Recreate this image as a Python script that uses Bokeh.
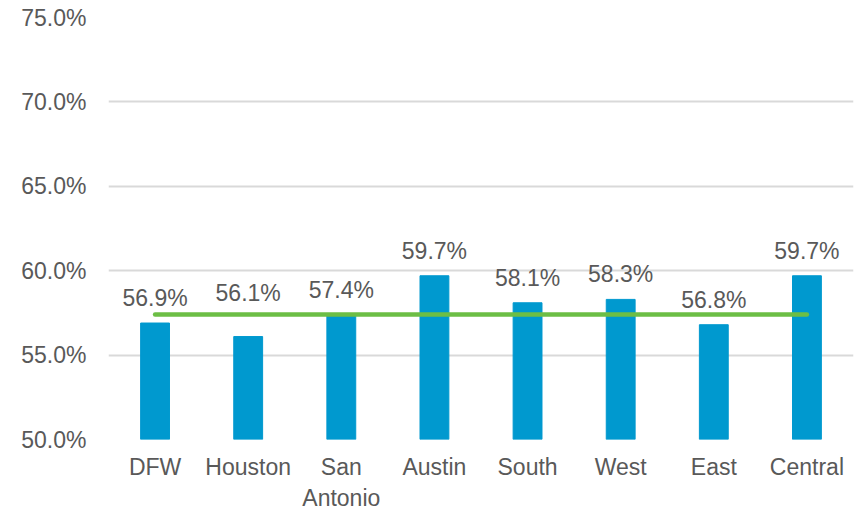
from bokeh.plotting import figure
from bokeh.models import ColumnDataSource, FixedTicker, PrintfTickFormatter, Range1d
from bokeh.core.properties import value
from bokeh.embed import file_html
from bokeh.resources import INLINE

categories = ["DFW", "Houston", "San\nAntonio", "Austin", "South", "West", "East", "Central"]
rates = [56.9, 56.1, 57.4, 59.7, 58.1, 58.3, 56.8, 59.7]
average = 57.4
y_ticks = [50, 55, 60, 65, 70, 75]

label_lift_px = [-25, -44, -25, -25, -25, -25, -25, -25]

FONT = "Liberation Sans"
TEXT = "#595959"

src = ColumnDataSource(dict(
    cat=categories,
    rate=rates,
    label=[f"{v:.1f}%" for v in rates],
    lift=label_lift_px,
))

p = figure(x_range=categories, y_range=Range1d(50, 75),
           frame_width=745, frame_height=422,
           output_backend="svg", toolbar_location=None,
           min_border_left=108, min_border_right=5, min_border_top=17, min_border_bottom=60)
p.outline_line_color = None
p.background_fill_color = "white"
p.border_fill_color = "white"

p.vbar(x="cat", top="rate", bottom=50, width=0.31, source=src,
       fill_color="#0099CF", line_color="#0099CF")

p.line(x=[categories[0], categories[-1]], y=[average, average],
       line_color="#6CBE45", line_width=4.5, line_cap="round")

p.text(x="cat", y="rate", text="label", y_offset="lift", source=src,
       text_align="center", text_baseline="middle",
       text_font=value(FONT), text_font_size="23px", text_color=TEXT)

p.xgrid.grid_line_color = None
p.ygrid.grid_line_color = "#D9D9D9"
p.ygrid.grid_line_width = 2
p.yaxis.ticker = FixedTicker(ticks=y_ticks)
p.ygrid.ticker = FixedTicker(ticks=y_ticks)
p.yaxis.formatter = PrintfTickFormatter(format="%.1f%%")

for ax in (p.xaxis, p.yaxis):
    ax.axis_line_color = None
    ax.major_tick_line_color = None
    ax.minor_tick_line_color = None
    ax.major_label_text_font = FONT
    ax.major_label_text_font_size = "23px"
    ax.major_label_text_color = TEXT

p.yaxis.major_label_standoff = 16
p.xaxis.major_label_standoff = 8

open("out.html", "w").write(file_html(p, INLINE))
